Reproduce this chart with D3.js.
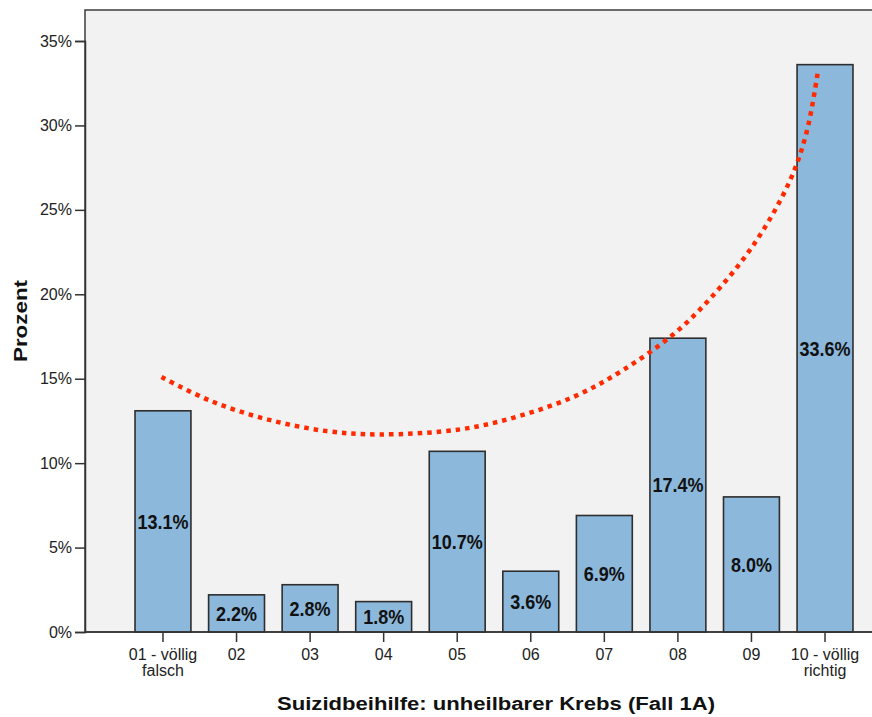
<!DOCTYPE html>
<html>
<head>
<meta charset="utf-8">
<script src="https://cdn.jsdelivr.net/npm/d3@7/dist/d3.min.js"></script>
<style>
  html, body { margin: 0; padding: 0; background: #ffffff; }
  svg { display: block; }
  text { font-family: "Liberation Sans", Arial, sans-serif; }
</style>
</head>
<body>
<svg id="chart" width="872" height="717"></svg>
<script>
// Response categories (first and last carry a second line)
const categories = ["01", "02", "03", "04", "05", "06", "07", "08", "09", "10"];
const categoryLabels = [
  ["01 - völlig", "falsch"], ["02"], ["03"], ["04"], ["05"],
  ["06"], ["07"], ["08"], ["09"], ["10 - völlig", "richtig"]
];
// Share of respondents per category, in percent
const percentValues = [13.1, 2.2, 2.8, 1.8, 10.7, 3.6, 6.9, 17.4, 8.0, 33.6];
// Y axis ticks
const yTicks = [0, 5, 10, 15, 20, 25, 30, 35];
// Hand-drawn trend curve: position on the category axis (1 = "01") and percent
const trendPos = [0.98, 1.64, 2.41, 3.22, 3.93, 5.04, 5.85, 6.62, 7.25, 7.93, 8.43, 9.04, 9.52, 9.75, 9.90];
const trendValue = [15.1, 13.7, 12.6, 11.9, 11.7, 12.0, 12.8, 14.0, 15.5, 17.6, 19.7, 23.0, 26.7, 29.6, 33.1];

const svg = d3.select("#chart");
const plot = { left: 85, top: 10, right: 880, bottom: 632 };

const x = d3.scaleBand()
  .domain(categories)
  .range([126.2, 861.8])
  .paddingInner(0.24)
  .paddingOuter(0.12);

const y = d3.scaleLinear()
  .domain([0, 35])
  .range([plot.bottom, 41]);

// continuous position along the category axis for the trend curve
const step = x.step();
const xPos = u => x(categories[0]) + x.bandwidth() / 2 + (u - 1) * step;

// plot background and frame
svg.append("rect")
  .attr("x", plot.left).attr("y", plot.top)
  .attr("width", plot.right - plot.left).attr("height", plot.bottom - plot.top)
  .attr("fill", "#f2f2f2")
  .attr("stroke", "#3c3c3c").attr("stroke-width", 1.5);

// bars
svg.append("g").selectAll("rect")
  .data(percentValues)
  .join("rect")
  .attr("x", (d, i) => x(categories[i]))
  .attr("y", d => y(d))
  .attr("width", x.bandwidth())
  .attr("height", d => y(0) - y(d))
  .attr("fill", "#8cb8db")
  .attr("stroke", "#2e2e2e")
  .attr("stroke-width", 1.6);

// value labels centred in each bar (tall, slightly condensed bold)
svg.append("g").selectAll("text")
  .data(percentValues)
  .join("text")
  .attr("transform", (d, i) =>
    `translate(${x(categories[i]) + x.bandwidth() / 2},${(y(d) + y(0)) / 2}) scale(0.9,1)`)
  .attr("dy", "0.36em")
  .attr("text-anchor", "middle")
  .attr("font-size", 20)
  .attr("font-weight", "bold")
  .attr("fill", "#111")
  .text(d => d.toFixed(1) + "%");

// y axis
const yAxis = d3.axisLeft(y)
  .tickValues(yTicks)
  .tickFormat(d => d + "%")
  .tickSize(10)
  .tickPadding(3);
const gy = svg.append("g")
  .attr("transform", `translate(${plot.left},0)`)
  .call(yAxis);
gy.select(".domain").attr("stroke", "#333").attr("stroke-width", 1.5);
gy.selectAll(".tick line").attr("stroke", "#333").attr("stroke-width", 1.5);
gy.selectAll(".tick text")
  .attr("font-size", 16)
  .attr("font-family", "Liberation Sans, Arial, sans-serif")
  .attr("fill", "#222");

// x axis
const xAxis = d3.axisBottom(x).tickSize(10).tickFormat("");
const gx = svg.append("g")
  .attr("transform", `translate(0,${plot.bottom})`)
  .call(xAxis);
gx.select(".domain").remove();
gx.selectAll(".tick line").attr("stroke", "#333").attr("stroke-width", 1.5);
svg.append("line")
  .attr("x1", plot.left).attr("x2", plot.right)
  .attr("y1", plot.bottom).attr("y2", plot.bottom)
  .attr("stroke", "#333").attr("stroke-width", 1.5);

const xl = svg.append("g").selectAll("text")
  .data(categoryLabels)
  .join("text")
  .attr("x", (d, i) => x(categories[i]) + x.bandwidth() / 2)
  .attr("y", plot.bottom + 28)
  .attr("text-anchor", "middle")
  .attr("font-size", 16)
  .attr("fill", "#222");
xl.selectAll("tspan")
  .data(d => d)
  .join("tspan")
  .attr("x", function () { return this.parentNode.getAttribute("x"); })
  .attr("dy", (d, i) => i === 0 ? 0 : 16)
  .text(d => d);

// axis titles
svg.append("text")
  .attr("transform", "translate(27,321) rotate(-90)")
  .attr("text-anchor", "middle")
  .attr("font-family", "DejaVu Sans, sans-serif")
  .attr("font-size", 18)
  .attr("font-weight", "bold")
  .attr("fill", "#111")
  .attr("textLength", 82)
  .attr("lengthAdjust", "spacingAndGlyphs")
  .text("Prozent");

svg.append("text")
  .attr("x", 496).attr("y", 710)
  .attr("text-anchor", "middle")
  .attr("font-family", "DejaVu Sans, sans-serif")
  .attr("font-size", 18)
  .attr("font-weight", "bold")
  .attr("fill", "#111")
  .attr("textLength", 438)
  .attr("lengthAdjust", "spacingAndGlyphs")
  .text("Suizidbeihilfe: unheilbarer Krebs (Fall 1A)");

// dotted trend curve
const trend = trendPos.map((p, i) => [p, trendValue[i]]);
svg.append("path")
  .datum(trend)
  .attr("d", d3.line()
    .x(d => xPos(d[0]))
    .y(d => y(d[1]))
    .curve(d3.curveCatmullRom.alpha(0.5)))
  .attr("fill", "none")
  .attr("stroke", "#ff2a00")
  .attr("stroke-width", 4.5)
  .attr("stroke-dasharray", "4.5 5");
</script>
</body>
</html>
